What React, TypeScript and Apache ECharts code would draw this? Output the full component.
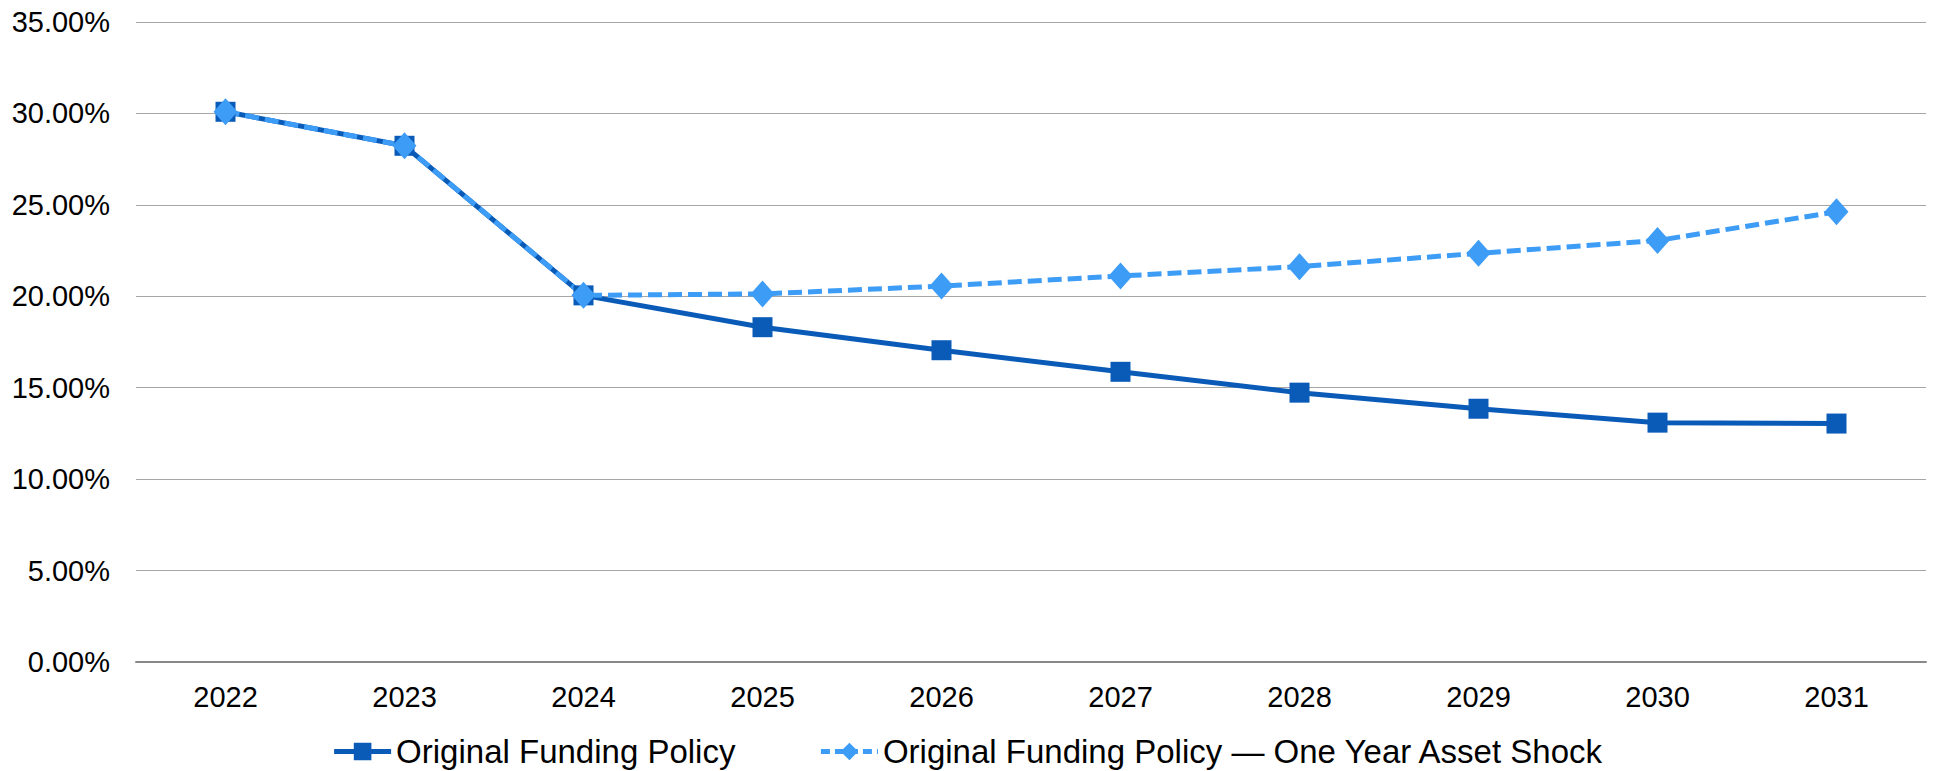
import React, { useEffect, useRef } from "react";
import * as echarts from "echarts";

const years = ["2022", "2023", "2024", "2025", "2026", "2027", "2028", "2029", "2030", "2031"];
const originalPolicy = [30.09, 28.23, 20.05, 18.31, 17.05, 15.87, 14.73, 13.85, 13.09, 13.04];
const assetShock = [30.09, 28.23, 20.05, 20.13, 20.56, 21.11, 21.62, 22.35, 23.05, 24.62];
const seriesNames = ["Original Funding Policy", "Original Funding Policy \u2014 One Year Asset Shock"];

export default function App() {
  const ref = useRef<HTMLDivElement>(null);
  useEffect(() => {
    if (!ref.current) return;
    const chart = echarts.init(ref.current, undefined, { renderer: "svg" });
    const font = "'Liberation Sans', Arial, sans-serif";
    const darkBlue = "#0a5bb8";
    const lightBlue = "#3d9cf6";
    chart.setOption({
      animation: false,
      backgroundColor: "#ffffff",
      grid: { left: 136, right: 10, top: 22, bottom: 109, containLabel: false },
      legend: {
        left: "center",
        top: 730,
        itemWidth: 57,
        itemHeight: 22,
        itemGap: 83,
        textStyle: { fontFamily: font, fontSize: 33, color: "#000" },
        data: [
          { name: seriesNames[0], lineStyle: { width: 5, color: darkBlue } },
          { name: seriesNames[1], lineStyle: { width: 5, color: lightBlue, type: [9, 5] } },
        ],
      },
      xAxis: {
        type: "category",
        data: years,
        boundaryGap: true,
        axisLine: { show: true, lineStyle: { color: "#888888", width: 2 } },
        axisTick: { show: false },
        axisLabel: { fontFamily: font, fontSize: 29, color: "#000", margin: 20 },
      },
      yAxis: {
        type: "value",
        min: 0,
        max: 35,
        interval: 5,
        axisLine: { show: false },
        axisTick: { show: false },
        splitLine: { show: true, lineStyle: { color: "#a6a6a6", width: 1 } },
        axisLabel: {
          fontFamily: font,
          fontSize: 29,
          color: "#000",
          margin: 26,
          formatter: (v: number) => v.toFixed(2) + "%",
        },
      },
      series: [
        {
          name: seriesNames[0],
          type: "line",
          data: originalPolicy,
          symbol: "rect",
          symbolSize: 20,
          lineStyle: { color: darkBlue, width: 5 },
          itemStyle: { color: darkBlue },
        },
        {
          name: seriesNames[1],
          type: "line",
          data: assetShock,
          symbol: "diamond",
          symbolSize: [24, 27],
          lineStyle: { color: lightBlue, width: 5, type: [14, 6] },
          itemStyle: { color: lightBlue },
        },
      ],
    });
    return () => chart.dispose();
  }, []);
  return (
    <div
      ref={ref}
      style={{ position: "fixed", left: 0, top: 0, width: 1936, height: 771, background: "#fff" }}
    />
  );
}
